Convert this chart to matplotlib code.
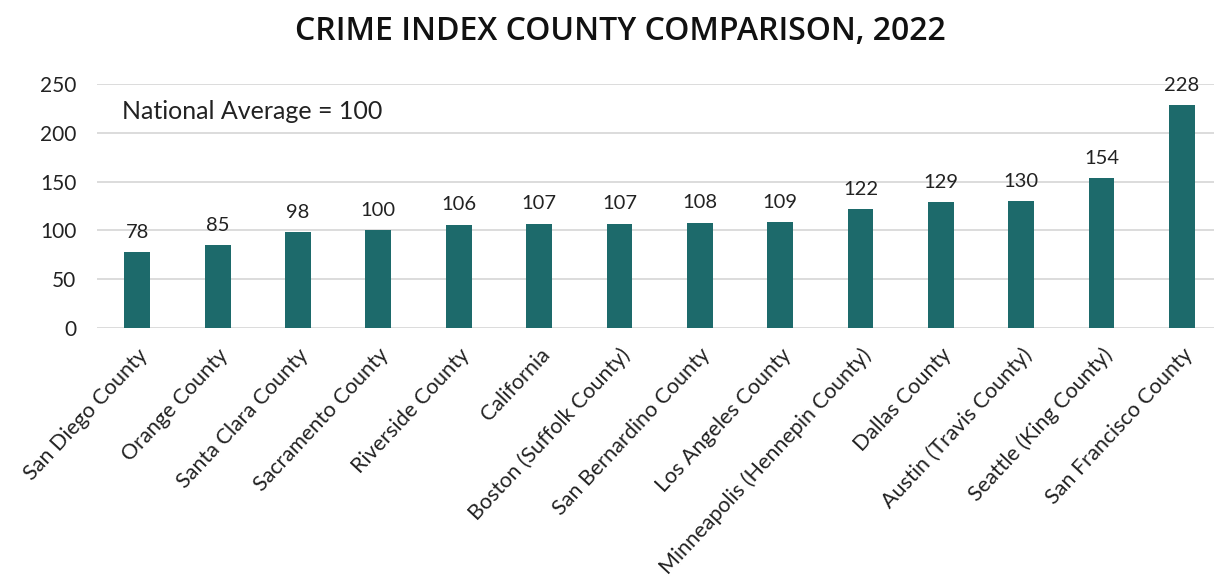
import matplotlib.pyplot as plt
import numpy as np

areas = [
    "San Diego County", "Orange County", "Santa Clara County", "Sacramento County",
    "Riverside County", "California", "Boston (Suffolk County)", "San Bernardino County",
    "Los Angeles County", "Minneapolis (Hennepin County)", "Dallas County",
    "Austin (Travis County)", "Seattle (King County)", "San Francisco County",
]
crime_index = [78, 85, 98, 100, 106, 107, 107, 108, 109, 122, 129, 130, 154, 228]
y_ticks = [0, 50, 100, 150, 200, 250]

TEAL = "#1d6a6b"
GRID = "#d9d9d9"
INK = "#222222"
plt.rcParams["font.family"] = ["Lato", "DejaVu Sans"]

fig = plt.figure(figsize=(12.14, 5.86), dpi=100)
ax = fig.add_axes([0.080, 0.440, 0.920, 0.417])

x = np.arange(len(areas))
ax.bar(x, crime_index, width=0.32, color=TEAL, zorder=3)
for xi, v in zip(x, crime_index):
    ax.annotate(str(v), (xi, v), xytext=(0, 8), textcoords="offset points",
                ha="center", va="bottom", fontsize=14.5, color=INK,
                annotation_clip=False)

ax.set_ylim(0, 250)
ax.set_xlim(-0.5, len(areas) - 0.6)
ax.set_yticks(y_ticks)
ax.yaxis.grid(True, color=GRID, lw=1.3, zorder=0)
ax.tick_params(axis="y", length=0, labelsize=15, pad=15, labelcolor=INK)
ax.tick_params(axis="x", length=0, pad=12)
for s in ax.spines.values():
    s.set_visible(False)

ax.set_xticks(x)
ax.set_xticklabels(areas, rotation=47, ha="right", rotation_mode="anchor",
                   fontsize=15.5, color=INK)

ax.text(0.022, 0.885, "National Average = 100", transform=ax.transAxes,
        fontsize=18, color=INK, va="center")

fig.text(0.511, 0.947, "CRIME INDEX COUNTY COMPARISON, 2022", ha="center",
         va="center", fontsize=23, fontweight="semibold", color="#111111",
         family=["Open Sans", "DejaVu Sans"])

fig.savefig("out.png", dpi=100)
